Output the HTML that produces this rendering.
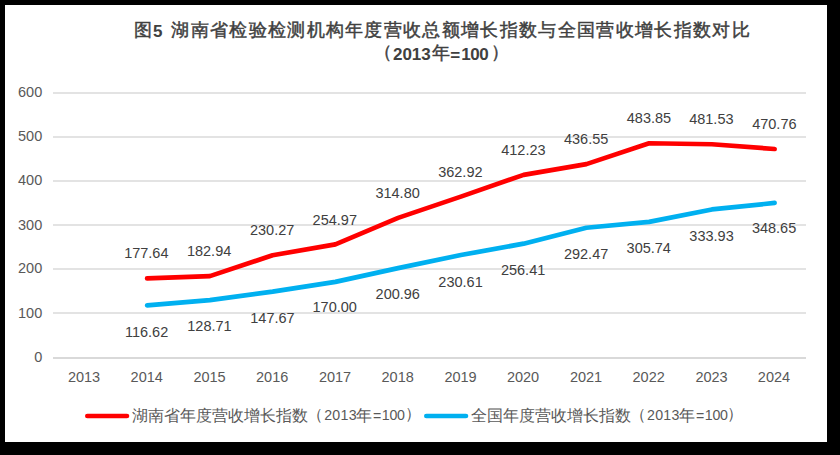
<!DOCTYPE html>
<html><head><meta charset="utf-8"><style>
html,body{margin:0;padding:0;background:#000;width:840px;height:455px;overflow:hidden}
svg{display:block}
text{font-family:"Liberation Sans", sans-serif}
.ax{font-size:14.5px;fill:#595959}
.dl{font-size:14.5px;fill:#404040}
.lgc{font-size:16px;fill:#595959}
.lgd{font-size:14.2px;fill:#595959}
.ttc{font-size:17.5px;font-weight:500;fill:#404040;stroke:#404040;stroke-width:0.45px}
.ttd{font-size:17px;font-weight:bold;fill:#404040}
</style></head><body>
<svg width="840" height="455" viewBox="0 0 840 455">
<rect x="0" y="0" width="840" height="455" fill="#000"/>
<rect x="5" y="5" width="822" height="437" fill="#fff"/>
<g id="gfx">
<rect x="53" y="312" width="753" height="2" fill="#e3e3e3"/>
<rect x="53" y="268" width="753" height="2" fill="#e3e3e3"/>
<rect x="53" y="224" width="753" height="2" fill="#e3e3e3"/>
<rect x="53" y="180" width="753" height="2" fill="#e3e3e3"/>
<rect x="53" y="136" width="753" height="2" fill="#e3e3e3"/>
<rect x="53" y="92" width="753" height="2" fill="#e3e3e3"/>
<rect x="53" y="357" width="753" height="2" fill="#d9d9d9"/>
<polyline points="147.12,305.40 209.88,300.06 272.62,291.69 335.38,281.83 398.12,268.16 460.88,255.06 523.62,243.67 586.38,227.75 649.12,221.89 711.88,209.44 774.62,202.94" fill="none" stroke="#00b0f0" stroke-width="4.7" stroke-linecap="round" stroke-linejoin="round"/>
<polyline points="147.12,278.45 209.88,276.11 272.62,255.21 335.38,244.31 398.12,217.88 460.88,196.63 523.62,174.86 586.38,164.12 649.12,143.23 711.88,144.26 774.62,149.01" fill="none" stroke="#ff0000" stroke-width="4.7" stroke-linecap="round" stroke-linejoin="round"/>
<line x1="87.35" y1="416.0" x2="126.95" y2="416.0" stroke="#ff0000" stroke-width="4.7" stroke-linecap="round"/>
<line x1="426.35" y1="416.0" x2="465.95" y2="416.0" stroke="#00b0f0" stroke-width="4.7" stroke-linecap="round"/>
</g>
<g id="txt">
<text id="y0" x="42.24" y="362.20" text-anchor="end" class="ax">0</text>
<text id="y1" x="42.24" y="317.64" text-anchor="end" class="ax">100</text>
<text id="y2" x="42.24" y="273.08" text-anchor="end" class="ax">200</text>
<text id="y3" x="42.24" y="229.52" text-anchor="end" class="ax">300</text>
<text id="y4" x="42.24" y="184.96" text-anchor="end" class="ax">400</text>
<text id="y5" x="42.24" y="141.40" text-anchor="end" class="ax">500</text>
<text id="y6" x="42.24" y="97.04" text-anchor="end" class="ax">600</text>
<text id="x0" x="84.06" y="382.30" text-anchor="middle" class="ax">2013</text>
<text id="x1" x="146.73" y="382.30" text-anchor="middle" class="ax">2014</text>
<text id="x2" x="209.55" y="382.30" text-anchor="middle" class="ax">2015</text>
<text id="x3" x="272.15" y="382.30" text-anchor="middle" class="ax">2016</text>
<text id="x4" x="335.06" y="382.30" text-anchor="middle" class="ax">2017</text>
<text id="x5" x="397.65" y="382.30" text-anchor="middle" class="ax">2018</text>
<text id="x6" x="460.55" y="382.30" text-anchor="middle" class="ax">2019</text>
<text id="x7" x="523.03" y="382.30" text-anchor="middle" class="ax">2020</text>
<text id="x8" x="586.06" y="382.30" text-anchor="middle" class="ax">2021</text>
<text id="x9" x="648.69" y="382.30" text-anchor="middle" class="ax">2022</text>
<text id="x10" x="711.55" y="382.30" text-anchor="middle" class="ax">2023</text>
<text id="x11" x="774.00" y="382.30" text-anchor="middle" class="ax">2024</text>
<text id="r1" x="146.31" y="258.03" text-anchor="middle" class="dl">177.64</text>
<text id="r2" x="209.10" y="255.91" text-anchor="middle" class="dl">182.94</text>
<text id="r3" x="272.15" y="234.90" text-anchor="middle" class="dl">230.27</text>
<text id="r4" x="334.79" y="224.64" text-anchor="middle" class="dl">254.97</text>
<text id="r5" x="397.61" y="198.07" text-anchor="middle" class="dl">314.80</text>
<text id="r6" x="460.36" y="176.68" text-anchor="middle" class="dl">362.92</text>
<text id="r7" x="523.37" y="154.67" text-anchor="middle" class="dl">412.23</text>
<text id="r8" x="586.12" y="144.16" text-anchor="middle" class="dl">436.55</text>
<text id="r9" x="648.93" y="123.05" text-anchor="middle" class="dl">483.85</text>
<text id="r10" x="711.36" y="124.25" text-anchor="middle" class="dl">481.53</text>
<text id="r11" x="774.34" y="129.10" text-anchor="middle" class="dl">470.76</text>
<text id="b1" x="146.59" y="336.60" text-anchor="middle" class="dl">116.62</text>
<text id="b2" x="209.44" y="331.49" text-anchor="middle" class="dl">128.71</text>
<text id="b3" x="272.49" y="323.11" text-anchor="middle" class="dl">147.67</text>
<text id="b4" x="334.70" y="312.42" text-anchor="middle" class="dl">170.00</text>
<text id="b5" x="397.75" y="299.45" text-anchor="middle" class="dl">200.96</text>
<text id="b6" x="460.53" y="286.50" text-anchor="middle" class="dl">230.61</text>
<text id="b7" x="523.09" y="274.95" text-anchor="middle" class="dl">256.41</text>
<text id="b8" x="586.10" y="258.76" text-anchor="middle" class="dl">292.47</text>
<text id="b9" x="648.77" y="253.08" text-anchor="middle" class="dl">305.74</text>
<text id="b10" x="711.53" y="240.89" text-anchor="middle" class="dl">333.93</text>
<text id="b11" x="774.08" y="233.49" text-anchor="middle" class="dl">348.65</text>
<text id="t1" x="134.15" y="35.84" class="ttc">图</text>
<text id="t2" x="153.03" y="36.55" class="ttd">5</text>
<text id="t3" x="171.20" y="35.60" textLength="578.54" class="ttc">湖南省检验检测机构年度营收总额增长指数与全国营收增长指数对比</text>
<text id="t4" x="373.96" y="57.68" class="ttc">（</text>
<text id="t5" x="392.90" y="59.70" textLength="37.91" class="ttd">2013</text>
<text id="t6" x="432.30" y="58.79" class="ttc">年</text>
<text id="t7" x="450.30" y="61.10" class="ttd">=</text>
<text id="t8" x="461.30" y="59.70" textLength="27.47" class="ttd">100</text>
<text id="t9" x="490.52" y="57.70" class="ttc">）</text>
<text id="a1" x="131.80" y="420.80" textLength="176.28" class="lgc">湖南省年度营收增长指数</text>
<text id="ba1" x="470.65" y="420.80" textLength="160.03" class="lgc">全国年度营收增长指数</text>
<text id="a2" x="307.40" y="419.55" class="lgc">（</text>
<text id="ba2" x="629.80" y="419.55" class="lgc">（</text>
<text id="a3" x="324.18" y="420.45" textLength="32.45" class="lgd">2013</text>
<text id="ba3" x="647.09" y="420.45" textLength="32.30" class="lgd">2013</text>
<text id="a4" x="356.44" y="420.60" class="lgc">年</text>
<text id="ba4" x="678.64" y="420.60" class="lgc">年</text>
<text id="a5" x="373.01" y="420.82" class="lgd">=</text>
<text id="ba5" x="695.93" y="420.82" class="lgd">=</text>
<text id="a6" x="381.80" y="420.45" textLength="23.05" class="lgd">100</text>
<text id="ba6" x="704.82" y="420.45" textLength="23.12" class="lgd">100</text>
<text id="a7" x="405.07" y="419.10" class="lgc">）</text>
<text id="ba7" x="727.27" y="419.10" class="lgc">）</text>
</g>
</svg>
</body></html>
